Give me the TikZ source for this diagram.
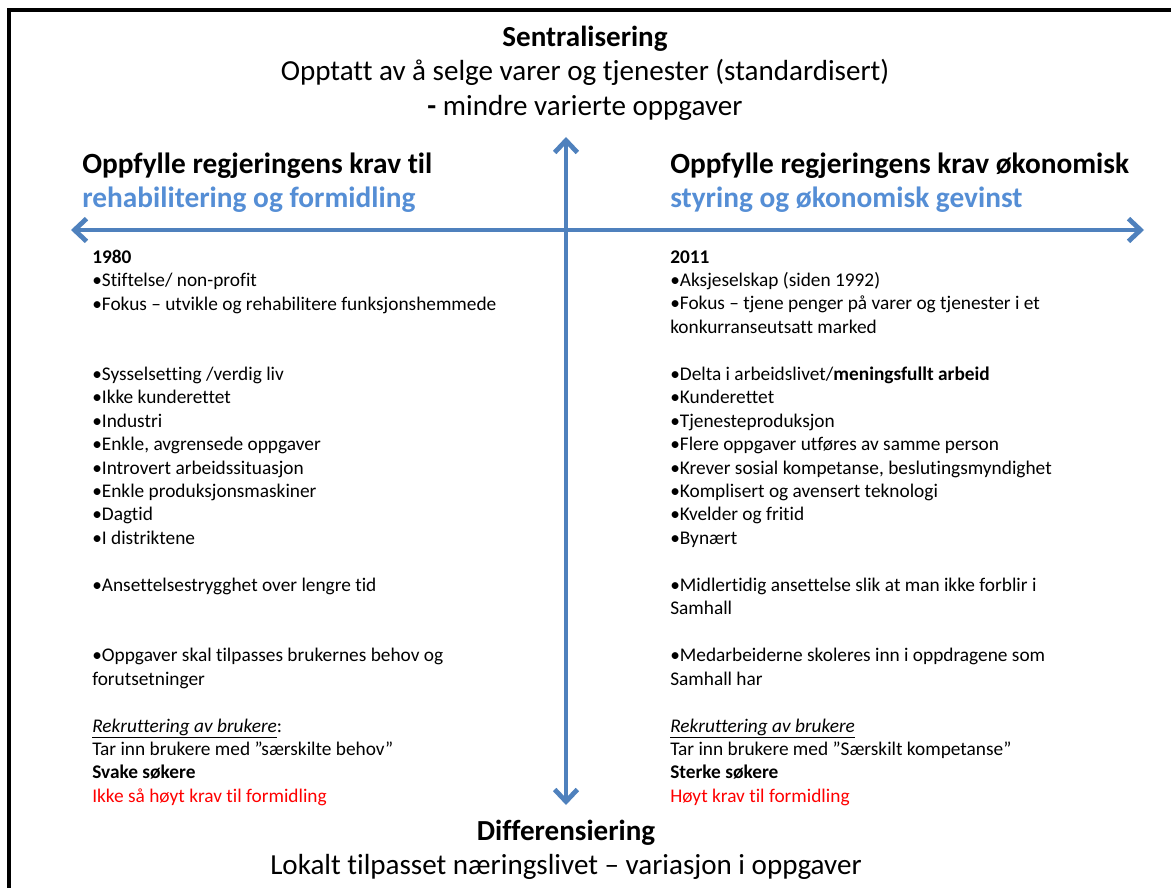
\documentclass[tikz,border=0pt]{standalone}
\usepackage{fontspec}
\setmainfont{Carlito}[Ligatures={NoCommon}]
\usetikzlibrary{arrows.meta}

\definecolor{axisblue}{RGB}{79,129,189}
\definecolor{headblue}{RGB}{85,142,213}
\definecolor{alertred}{RGB}{255,0,0}

\begin{document}
\begin{tikzpicture}[x=0.75pt,y=-0.75pt,
  axis/.style={draw=axisblue,line width=3.6pt,
    {Straight Barb[length=9pt,width=17pt]}-{Straight Barb[length=9pt,width=17pt]}},
  title/.style={anchor=base,inner sep=0pt,font=\fontsize{21.8}{26}\selectfont},
  heading/.style={anchor=base west,inner sep=0pt,align=left,font=\fontsize{22}{25.8}\selectfont\bfseries},
  body/.style={anchor=base west,inner sep=0pt,align=left,font=\fontsize{14.5}{17.6}\selectfont}]

  \useasboundingbox (0,0) rectangle (1171,888);

  % frame
  \draw[line width=3pt] (9,888) -- (9,10) -- (1171,10);

  % axes
  \coordinate (west) at (71,230);
  \coordinate (east) at (1144,230);
  \coordinate (north) at (566,137);
  \coordinate (south) at (566,805);
  \draw[axis] (west) -- (east);
  \draw[axis] (north) -- (south);

  % top and bottom
  \node[title] (sent) at (585,47) {\textbf{Sentralisering}};
  \node[title] (sent1) at (585,81) {Opptatt av å selge varer og tjenester (standardisert)};
  \node[title] (sent2) at (585,116) {\textbf{-} mindre varierte oppgaver};
  \node[title] (diff) at (566,840) {\textbf{Differensiering}};
  \node[title] (diff1) at (566,874) {Lokalt tilpasset næringslivet – variasjon i oppgaver};

  % headings (anchored at last line)
  \node[heading] (headL) at (82,208) {Oppfylle regjeringens krav til\\\textcolor{headblue}{rehabilitering og formidling}};
  \node[heading] (headR) at (670,208) {Oppfylle regjeringens krav økonomisk\\\textcolor{headblue}{styring og økonomisk gevinst}};

  % 1980
  \node[body] (l1) at (92,310) {\textbf{1980}\\•Stiftelse/ non-profit\\•Fokus – utvikle og rehabilitere funksjonshemmede};
  \node[body] (l2) at (92,544.4) {•Sysselsetting /verdig liv\\•Ikke kunderettet\\•Industri\\•Enkle, avgrensede oppgaver\\•Introvert arbeidssituasjon\\•Enkle produksjonsmaskiner\\•Dagtid\\•I distriktene};
  \node[body] (l3) at (92,591.3) {•Ansettelsestrygghet over lengre tid};
  \node[body] (l4) at (92,685.1) {•Oppgaver skal tilpasses brukernes behov og\\forutsetninger};
  \node[body] (l5) at (92,802.4) {\underline{\textit{Rekruttering av brukere}}:\\Tar inn brukere med ”særskilte behov”\\\textbf{Svake søkere}\\\textcolor{alertred}{Ikke så høyt krav til formidling}};

  % 2011
  \node[body] (r1) at (670,333.4) {\textbf{2011}\\•Aksjeselskap (siden 1992)\\•Fokus – tjene penger på varer og tjenester i et\\konkurranseutsatt marked};
  \node[body] (r2) at (670,544.4) {•Delta i arbeidslivet/\textbf{meningsfullt arbeid}\\•Kunderettet\\•Tjenesteproduksjon\\•Flere oppgaver utføres av samme person\\•Krever sosial kompetanse, beslutingsmyndighet\\•Komplisert og avensert teknologi\\•Kvelder og fritid\\•Bynært};
  \node[body] (r3) at (670,614.8) {•Midlertidig ansettelse slik at man ikke forblir i\\Samhall};
  \node[body] (r4) at (670,685.1) {•Medarbeiderne skoleres inn i oppdragene som\\Samhall har};
  \node[body] (r5) at (670,802.4) {\underline{\textit{Rekruttering av brukere}}\\Tar inn brukere med ”Særskilt kompetanse”\\\textbf{Sterke søkere}\\\textcolor{alertred}{Høyt krav til formidling}};

\end{tikzpicture}
\end{document}
